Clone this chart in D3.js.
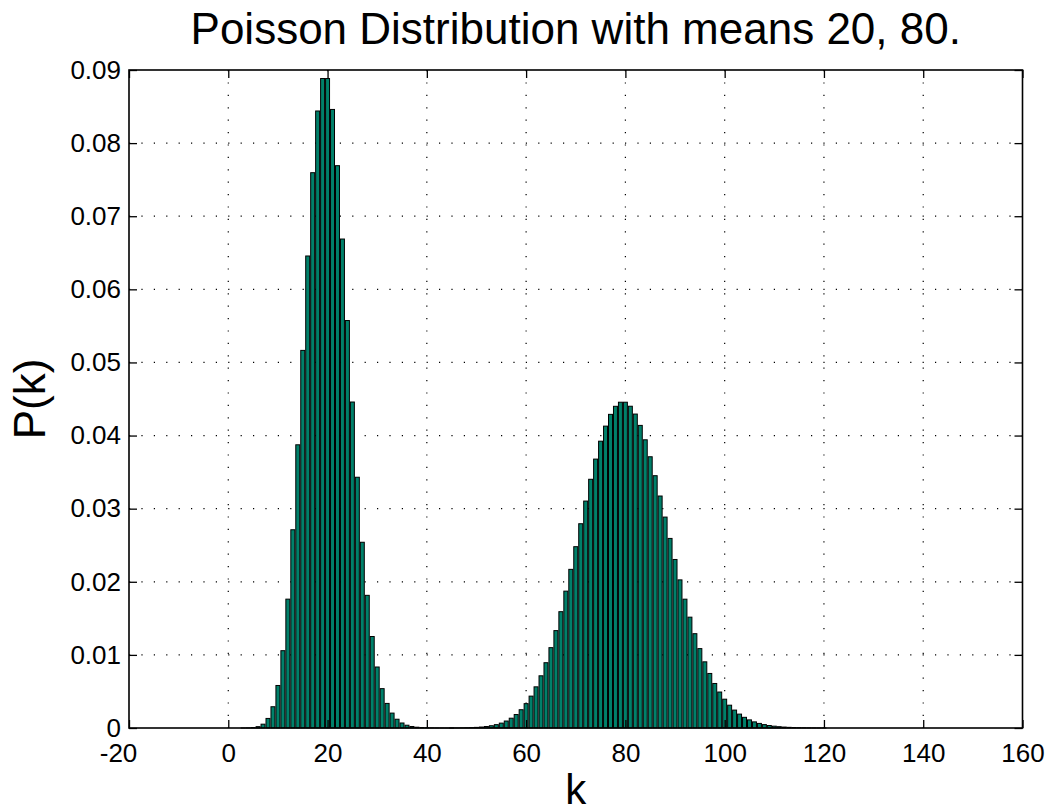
<!DOCTYPE html>
<html>
<head>
<meta charset="utf-8">
<script src="https://cdn.jsdelivr.net/npm/d3@7"></script>
<style>
  body { margin: 0; background: #fff; }
  svg text { font-family: "Liberation Sans", Arial, Helvetica, sans-serif; fill: #000; }
</style>
</head>
<body>
<div id="chart"></div>
<script>
// P(k), mean 20 series starts at k = 0
const lowStart = 0;
const lowValues = [
  0, 0, 0, 0.000003, 0.000014, 0.000055, 0.000183, 0.000523, 0.001309, 0.002908,
  0.005816, 0.010575, 0.017625, 0.027116, 0.038737, 0.051649, 0.064561, 0.075954, 0.084394, 0.088835,
  0.088835, 0.084605, 0.076914, 0.066881, 0.055734, 0.044587, 0.034298, 0.025406, 0.018147, 0.012515,
  0.008344, 0.005383, 0.003364, 0.002039, 0.001199, 0.000685, 0.000381, 0.000206, 0.000108, 0.000056,
  0.000028, 0.000014, 0.000007, 0.000003, 0.000001, 0.000001
];

// mean 80 series starts at k = 45
const highStart = 45;
const highValues = [
  0.0000066, 0.0000115, 0.0000196, 0.0000326, 0.0000531,
  0.000085, 0.000133, 0.000205, 0.00031, 0.000459, 0.000667, 0.000953, 0.00134, 0.00184, 0.0025,
  0.00333, 0.00436, 0.00563, 0.00714, 0.00893, 0.01099, 0.01332, 0.01591, 0.01872, 0.0217,
  0.0248, 0.02794, 0.03104, 0.03402, 0.03678, 0.03923, 0.04129, 0.0429, 0.044, 0.04456,
  0.04456, 0.04401, 0.04294, 0.04139, 0.03942, 0.0371, 0.03451, 0.03173, 0.02885, 0.02593,
  0.02305, 0.02026, 0.01762, 0.01516, 0.0129, 0.01086, 0.00905, 0.00746, 0.00609, 0.00492,
  0.00394, 0.00312, 0.00245, 0.0019, 0.00146, 0.00111, 0.000838, 0.000627, 0.000464, 0.000341,
  0.000248, 0.000179, 0.000128, 0.0000904, 0.0000634, 0.0000441, 0.0000304, 0.0000208, 0.0000141, 0.0000095,
  0.0000063
];

const xTicks = [-20, 0, 20, 40, 60, 80, 100, 120, 140, 160];
const yTicks = [0, 0.01, 0.02, 0.03, 0.04, 0.05, 0.06, 0.07, 0.08, 0.09];

const W = 1054, H = 812;
const margin = { left: 129, right: 31.5, top: 70, bottom: 84 };
const barColor = "#00806a";

const svg = d3.select("#chart").append("svg")
  .attr("width", W)
  .attr("height", H);

const x = d3.scaleLinear().domain([-20, 160]).range([margin.left, W - margin.right]);
const y = d3.scaleLinear().domain([0, 0.09]).range([H - margin.bottom, margin.top]);

const bars = [
  ...lowValues.map((p, i) => ({ k: lowStart + i, p })),
  ...highValues.map((p, i) => ({ k: highStart + i, p })),
];

// dotted grid
const grid = svg.append("g").attr("stroke", "#000").attr("stroke-width", 1.2)
  .attr("stroke-dasharray", "1.2,11.2");
grid.selectAll("line.vx")
  .data(xTicks.slice(1, -1))
  .join("line")
  .attr("x1", (d) => x(d)).attr("x2", (d) => x(d))
  .attr("y1", y(0.09)).attr("y2", y(0));
grid.selectAll("line.hy")
  .data(yTicks.slice(1, -1))
  .join("line")
  .attr("class", "hy")
  .attr("y1", (d) => y(d)).attr("y2", (d) => y(d))
  .attr("x1", x(-20)).attr("x2", x(160));

// bars, width 0.8 of a unit like MATLAB's bar()
const bw = x(0.8) - x(0);
svg.append("g")
  .selectAll("rect")
  .data(bars)
  .join("rect")
  .attr("x", (d) => x(d.k) - bw / 2)
  .attr("width", bw)
  .attr("y", (d) => y(d.p))
  .attr("height", (d) => y(0) - y(d.p))
  .attr("fill", barColor)
  .attr("stroke", "#000")
  .attr("stroke-width", 1);

// axes with inward ticks on all four sides
const tickLen = 8;
svg.append("g")
  .attr("transform", `translate(0,${y(0)})`)
  .call(d3.axisBottom(x).tickValues(xTicks).tickSizeInner(-tickLen).tickSizeOuter(0).tickFormat((d) => String(d)))
  .call((g) => g.selectAll("text").attr("dy", null).attr("y", 34).style("font-size", "26px")
    .attr("dx", (d) => (d === -20 ? -11 : 0)));
svg.append("g")
  .attr("transform", `translate(0,${y(0.09)})`)
  .call(d3.axisTop(x).tickValues(xTicks).tickSizeInner(-tickLen).tickSizeOuter(0).tickFormat(""));
svg.append("g")
  .attr("transform", `translate(${x(-20)},0)`)
  .call(d3.axisLeft(y).tickValues(yTicks).tickSizeInner(-tickLen).tickSizeOuter(0)
    .tickFormat((d) => (d === 0 ? "0" : d3.format(".2f")(d))))
  .call((g) => g.selectAll("text").attr("x", -8).style("font-size", "26px"));
svg.append("g")
  .attr("transform", `translate(${x(160)},0)`)
  .call(d3.axisRight(y).tickValues(yTicks).tickSizeInner(-tickLen).tickSizeOuter(0).tickFormat(""));

svg.selectAll(".domain").remove();
svg.selectAll(".tick line").attr("stroke", "#000").attr("stroke-width", 1.3);

svg.append("rect")
  .attr("x", x(-20)).attr("y", y(0.09))
  .attr("width", x(160) - x(-20)).attr("height", y(0) - y(0.09))
  .attr("fill", "none").attr("stroke", "#000").attr("stroke-width", 1.6);

// titles
svg.append("text")
  .attr("x", (x(-20) + x(160)) / 2).attr("y", 44)
  .attr("text-anchor", "middle")
  .style("font-size", "44px")
  .text("Poisson Distribution with means 20, 80.");

svg.append("text")
  .attr("x", (x(-20) + x(160)) / 2).attr("y", 804)
  .attr("text-anchor", "middle")
  .style("font-size", "42px")
  .text("k");

svg.append("text")
  .attr("transform", `translate(45,${(y(0) + y(0.09)) / 2}) rotate(-90)`)
  .attr("text-anchor", "middle")
  .style("font-size", "44px")
  .text("P(k)");
</script>
</body>
</html>
